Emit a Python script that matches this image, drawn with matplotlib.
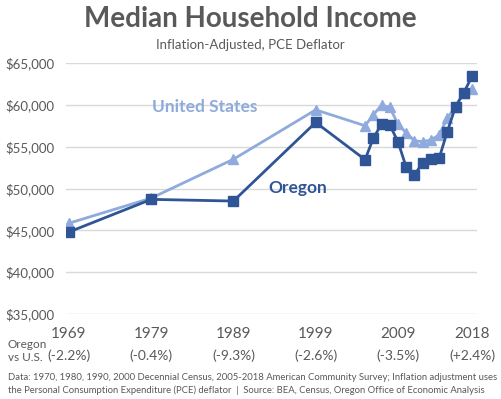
import matplotlib.pyplot as plt

plt.rcParams['font.family'] = ['Lato', 'DejaVu Sans']

# Data
years = [1969, 1979, 1989, 1999, 2005, 2006, 2007, 2008, 2009, 2010, 2011, 2012, 2013, 2014, 2015, 2016, 2017, 2018]
oregon = [44800, 48700, 48500, 57900, 53450, 56000, 57700, 57600, 55600, 52550, 51600, 53100, 53500, 53600, 56800, 59800, 61450, 63400]
us = [45850, 48850, 53500, 59400, 57500, 58800, 59950, 59700, 57700, 56650, 55700, 55600, 55800, 56400, 58400, 59800, 61400, 61900]

tick_years = [1969, 1979, 1989, 1999, 2009, 2018]
gaps = ['(-2.2%)', '(-0.4%)', '(-9.3%)', '(-2.6%)', '(-3.5%)', '(+2.4%)']
yticks = [35000, 40000, 45000, 50000, 55000, 60000, 65000]

dark = '#2F5597'
light = '#8FAADC'
gray = '#595959'

fig = plt.figure(figsize=(5.01, 3.99), dpi=100)
ax = fig.add_axes([66 / 501, 1 - 314 / 399, 411 / 501, 251 / 399])

ax.plot(years, us, color=light, lw=2.0, marker='^', ms=7, zorder=2)
ax.plot(years, oregon, color=dark, lw=2.0, marker='s', ms=6.5, zorder=3)

ax.set_xlim(1968.64, 2018.61)
ax.set_ylim(35000, 65000)
ax.set_yticks(yticks)
ax.set_yticklabels(['${:,}'.format(v) for v in yticks], color=gray, fontsize=9.5, parse_math=False)
ax.set_xticks(tick_years)
ax.set_xticklabels([str(y) for y in tick_years], color=gray, fontsize=11)
ax.tick_params(length=0, axis='y', pad=8)
ax.tick_params(length=0, axis='x', pad=9)
ax.grid(axis='y', color='#D9D9D9', lw=1)
ax.set_axisbelow(True)
for s in ax.spines.values():
    s.set_visible(False)

ax.text(1979.1, 59700, 'United States', color=light, fontsize=12.5, fontweight='bold', ha='left', va='center')
ax.text(1993.3, 50100, 'Oregon', color=dark, fontsize=12.5, fontweight='bold', ha='left', va='center')

# Oregon vs US gap row
for y, g in zip(tick_years, gaps):
    ax.text(y, -0.165, g, transform=ax.get_xaxis_transform(), ha='center', va='center',
            color=gray, fontsize=10)
fig.text(8 / 501, 1 - 351 / 399, 'Oregon\nvs U.S.', ha='left', va='center', color=gray,
         fontsize=8.5, linespacing=1.2)

fig.text(0.5, 1 - 19 / 399, 'Median Household Income', ha='center', va='center',
         color=gray, fontsize=20, fontweight='bold')
fig.text(0.5, 1 - 45 / 399, 'Inflation-Adjusted, PCE Deflator', ha='center', va='center',
         color=gray, fontsize=9.5)

fig.text(8 / 501, 1 - 384 / 399,
         'Data: 1970, 1980, 1990, 2000 Decennial Census, 2005-2018 American Community Survey; Inflation adjustment uses\n'
         'the Personal Consumption Expenditure (PCE) deflator  |  Source: BEA, Census, Oregon Office of Economic Analysis',
         ha='left', va='center', color=gray, fontsize=6.8, linespacing=1.45)

fig.savefig('out.png', dpi=100)
